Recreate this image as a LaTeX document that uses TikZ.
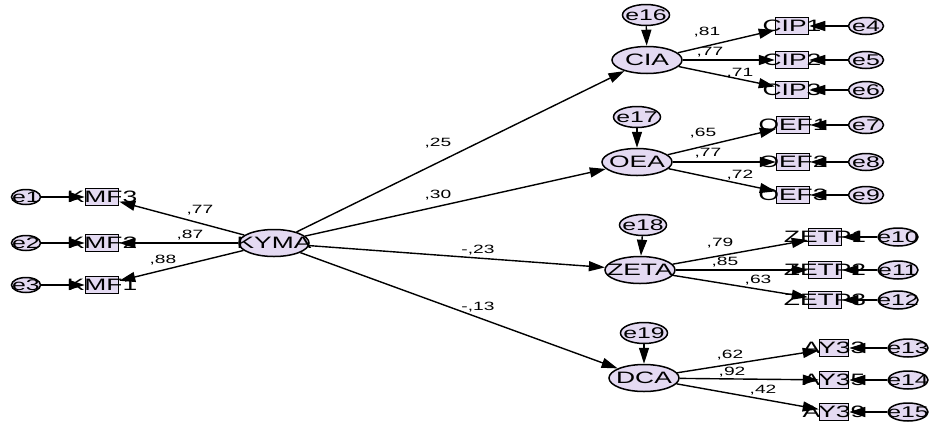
\documentclass[tikz,border=0pt]{standalone}
\usepackage{fontspec}
\newfontfamily\wf[FakeStretch=1.6]{Liberation Sans}
\usetikzlibrary{shapes.geometric,arrows.meta}
\definecolor{lav}{RGB}{228,218,242}
\begin{document}
\begin{tikzpicture}[x=1pt,y=-1pt,
  lat/.style={ellipse,draw,fill=lav,line width=1.5pt,minimum width=70pt,minimum height=27pt,inner sep=0pt},
  errs/.style={ellipse,draw,fill=lav,line width=1.5pt,minimum width=29pt,minimum height=15pt,inner sep=0pt},
  errm/.style={ellipse,draw,fill=lav,line width=1.5pt,minimum width=35pt,minimum height=17pt,inner sep=0pt},
  errw/.style={ellipse,draw,fill=lav,line width=1.5pt,minimum width=40pt,minimum height=18pt,inner sep=0pt},
  errt/.style={ellipse,draw,fill=lav,line width=1.5pt,minimum width=47pt,minimum height=21pt,inner sep=0pt},
  ind/.style={rectangle,draw,fill=lav,line width=1.5pt,minimum width=33pt,minimum height=17pt,inner sep=0pt},
  indn/.style={ind,minimum width=29pt},
  lt/.style={font=\wf\fontsize{16.5}{16.5}\selectfont,inner sep=0pt},
  et/.style={font=\wf\fontsize{15.5}{15.5}\selectfont,inner sep=0pt},
  coef/.style={font=\wf\fontsize{12}{12}\selectfont,inner sep=0pt},
  arr/.style={-{Triangle[length=16pt,width=10pt]},line width=1.4pt}]
\useasboundingbox[fill=white] (0,0) rectangle (932,421);

% latent variables
\node[lat,label={[lt]center:KYMA}] (kyma) at (274,243) {};
\node[lat,label={[lt]center:CIA}] (cia) at (647,60) {};
\node[lat,label={[lt]center:OEA}] (oea) at (637,162) {};
\node[lat,label={[lt]center:ZETA}] (zeta) at (640,270) {};
\node[lat,label={[lt]center:DCA}] (dca) at (644,378) {};

% disturbances
\node[errt,label={[et]center:e16}] (e16) at (646,15) {};
\node[errt,label={[et]center:e17}] (e17) at (637,117) {};
\node[errt,label={[et]center:e18}] (e18) at (643,225) {};
\node[errt,label={[et]center:e19}] (e19) at (644,333) {};

% left indicators
\node[ind,label={[lt]center:KMF3}] (kmf3) at (102,197) {};
\node[ind,label={[lt]center:KMF2}] (kmf2) at (102,243) {};
\node[ind,label={[lt]center:KMF1}] (kmf1) at (102,285) {};
\node[errs,label={[et]center:e1}] (e1) at (26,197) {};
\node[errs,label={[et]center:e2}] (e2) at (26,243) {};
\node[errs,label={[et]center:e3}] (e3) at (26,285) {};

% CIA indicators
\node[ind,label={[lt]center:CIP1}] (cip1) at (792,26) {};
\node[ind,label={[lt]center:CIP2}] (cip2) at (792,60) {};
\node[ind,label={[lt]center:CIP3}] (cip3) at (792,90) {};
\node[errm,label={[et]center:e4}] (e4) at (866,26) {};
\node[errm,label={[et]center:e5}] (e5) at (866,60) {};
\node[errm,label={[et]center:e6}] (e6) at (866,90) {};

% OEA indicators
\node[ind,label={[lt]center:OEF1}] (oef1) at (793,125) {};
\node[ind,label={[lt]center:OEF2}] (oef2) at (793,162) {};
\node[ind,label={[lt]center:OEF3}] (oef3) at (793,195) {};
\node[errm,label={[et]center:e7}] (e7) at (866,125) {};
\node[errm,label={[et]center:e8}] (e8) at (866,162) {};
\node[errm,label={[et]center:e9}] (e9) at (866,195) {};

% ZETA indicators
\node[ind,label={[lt]center:ZETP1}] (zetp1) at (825,237) {};
\node[ind,label={[lt]center:ZETP2}] (zetp2) at (825,270) {};
\node[ind,label={[lt]center:ZETP3}] (zetp3) at (825,300) {};
\node[errw,label={[et]center:e10}] (e10) at (898,237) {};
\node[errw,label={[et]center:e11}] (e11) at (898,270) {};
\node[errw,label={[et]center:e12}] (e12) at (898,300) {};

% DCA indicators
\node[indn,label={[lt]center:AY33}] (ay33) at (834,348) {};
\node[indn,label={[lt]center:AY35}] (ay35) at (834,380) {};
\node[indn,label={[lt]center:AY39}] (ay39) at (834,412) {};
\node[errw,label={[et]center:e13}] (e13) at (908,348) {};
\node[errw,label={[et]center:e14}] (e14) at (908,380) {};
\node[errw,label={[et]center:e15}] (e15) at (908,412) {};

% structural paths
\draw[arr] (kyma) -- (cia);
\draw[arr] (kyma) -- (oea);
\draw[arr] (kyma) -- (zeta);
\draw[arr] (kyma) -- (dca);
\draw[arr] (kyma) -- (kmf3);
\draw[arr] (kyma) -- (kmf2);
\draw[arr] (kyma) -- (kmf1);

% disturbance arrows
\draw[arr] (e16) -- (cia);
\draw[arr] (e17) -- (oea);
\draw[arr] (e18) -- (zeta);
\draw[arr] (e19) -- (dca);

% loadings
\foreach \l/\i in {cia/cip1,cia/cip2,cia/cip3,oea/oef1,oea/oef2,oea/oef3,zeta/zetp1,zeta/zetp2,zeta/zetp3,dca/ay33,dca/ay35,dca/ay39}
  \draw[arr] (\l) -- (\i);

% measurement errors
\foreach \e/\i in {e1/kmf3,e2/kmf2,e3/kmf1,e4/cip1,e5/cip2,e6/cip3,e7/oef1,e8/oef2,e9/oef3,e10/zetp1,e11/zetp2,e12/zetp3,e13/ay33,e14/ay35,e15/ay39}
  \draw[arr] (\e) -- (\i);

% coefficients
\node[coef] (c1) at (200,210) {,77};
\node[coef] (c2) at (190,235) {,87};
\node[coef] (c3) at (163,260) {,88};
\node[coef] (c4) at (438,143) {,25};
\node[coef] (c5) at (438,195) {,30};
\node[coef] (c6) at (478,250) {-,23};
\node[coef] (c7) at (478,307) {-,13};
\node[coef] (c8) at (707,32) {,81};
\node[coef] (c9) at (710,52) {,77};
\node[coef] (c10) at (740,73) {,71};
\node[coef] (c11) at (703,133) {,65};
\node[coef] (c12) at (708,153) {,77};
\node[coef] (c13) at (740,175) {,72};
\node[coef] (c14) at (720,243) {,79};
\node[coef] (c15) at (725,262) {,85};
\node[coef] (c16) at (758,280) {,63};
\node[coef] (c17) at (730,355) {,62};
\node[coef] (c18) at (732,372) {,92};
\node[coef] (c19) at (763,390) {,42};
\end{tikzpicture}
\end{document}
